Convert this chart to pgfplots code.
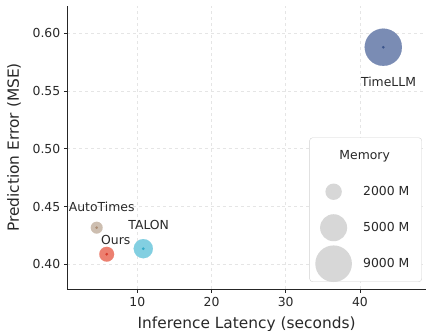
\documentclass[border=0pt]{standalone}
\usepackage{pgfplots}
\pgfplotsset{compat=1.18}
\usepackage{fontspec}
\setmainfont{DejaVu Sans}
\definecolor{cTime}{RGB}{122,140,180}
\definecolor{dTime}{RGB}{60,85,140}
\definecolor{cAuto}{RGB}{205,190,176}
\definecolor{dAuto}{RGB}{170,140,115}
\definecolor{cOurs}{RGB}{236,128,112}
\definecolor{dOurs}{RGB}{215,60,45}
\definecolor{cTalon}{RGB}{130,207,225}
\definecolor{dTalon}{RGB}{50,170,200}
\definecolor{lgrey}{RGB}{215,215,215}
\definecolor{txt}{RGB}{40,40,40}
\newcommand{\fs}{\fontsize{12.4bp}{14bp}\selectfont}
\newcommand{\fl}{\fontsize{15.4bp}{18bp}\selectfont}
\begin{document}
\begin{tikzpicture}
\useasboundingbox (-67.3bp,-42bp) rectangle (358.7bp,289bp);
\begin{axis}[
  at={(0,0)}, anchor=south west,
  scale only axis, width=358.7bp, height=283bp,
  xmin=0.57, xmax=48.9, ymin=0.3786, ymax=0.6236,
  axis lines=left, axis line style={-, black!85, line width=0.8bp},
  tick align=outside, major tick length=3.5bp,
  tick style={black!85, line width=0.8bp},
  xtick={10,20,30,40}, ytick={0.40,0.45,0.50,0.55,0.60},
  yticklabel style={/pgf/number format/.cd, fixed, fixed zerofill, precision=2},
  /pgf/number format/assume math mode=true,
  ticklabel style={font=\fs, text=txt},
  xticklabel style={yshift=-1bp},
  grid=major, grid style={dashed, black!10, line width=0.6bp},
  xlabel={Inference Latency (seconds)}, ylabel={Prediction Error (MSE)},
  xlabel style={font=\fl, text=txt, at={(axis description cs:0.5,0)}, anchor=base, yshift=-39bp},
  ylabel style={font=\fl, text=txt, at={(axis description cs:-0.1486,0.5)}, anchor=center},
  legend style={at={(rel axis cs:0.9886,0.025)}, anchor=south east, draw=black!18,
    rounded corners=3bp, fill=white, inner sep=0pt, row sep=0pt, column sep=0pt,
    font=\fs, text=txt, nodes={inner sep=0pt}, cells={anchor=west, draw=none}},
]
\addplot[only marks, mark=*, mark size=18.6bp, color=cTime, line width=0.1bp, forget plot] coordinates {(43.15,0.5879)};
\addplot[only marks, mark=*, mark size=1.3bp, color=dTime, line width=0.1bp, forget plot] coordinates {(43.15,0.5879)};
\addplot[only marks, mark=*, mark size=5.9bp, color=cAuto, line width=0.1bp, forget plot] coordinates {(4.53,0.4317)};
\addplot[only marks, mark=*, mark size=1.3bp, color=dAuto, line width=0.1bp, forget plot] coordinates {(4.53,0.4317)};
\addplot[only marks, mark=*, mark size=7.4bp, color=cOurs, line width=0.1bp, forget plot] coordinates {(5.88,0.4087)};
\addplot[only marks, mark=*, mark size=1.3bp, color=dOurs, line width=0.1bp, forget plot] coordinates {(5.88,0.4087)};
\addplot[only marks, mark=*, mark size=9.6bp, color=cTalon, line width=0.1bp, forget plot] coordinates {(10.81,0.4135)};
\addplot[only marks, mark=*, mark size=1.3bp, color=dTalon, line width=0.1bp, forget plot] coordinates {(10.81,0.4135)};
\node[font=\fs, text=txt] at (axis cs:43.85,0.5583) {TimeLLM};
\node[font=\fs, text=txt] at (axis cs:5.2,0.4493) {AutoTimes};
\node[font=\fs, text=txt] at (axis cs:7.1,0.421) {Ours};
\node[font=\fs, text=txt] at (axis cs:11.54,0.4343) {TALON};
\addlegendimage{legend image code/.code={\path[draw=none,fill=none] (-24bp,-18bp) rectangle (29.6bp,18bp);
  \begin{pgfinterruptboundingbox}\node[font=\fs, text=txt, draw=none, fill=none, anchor=center] at (31.1bp,0) {Memory};\end{pgfinterruptboundingbox}}}
\addlegendentry{}
\addlegendimage{legend image code/.code={\path[draw=none,fill=none] (-24bp,-18bp) rectangle (29.6bp,18bp);
  \begin{pgfinterruptboundingbox}\fill[lgrey, draw=none] (0,0) circle (8.2bp);\end{pgfinterruptboundingbox}}}
\addlegendentry{2000 M\hspace*{12.3bp}}
\addlegendimage{legend image code/.code={\path[draw=none,fill=none] (-24bp,-18bp) rectangle (29.6bp,18bp);
  \begin{pgfinterruptboundingbox}\fill[lgrey, draw=none] (0,0) circle (13.5bp);\end{pgfinterruptboundingbox}}}
\addlegendentry{5000 M\hspace*{12.3bp}}
\addlegendimage{legend image code/.code={\path[draw=none,fill=none] (-24bp,-18bp) rectangle (29.6bp,18bp);
  \begin{pgfinterruptboundingbox}\fill[lgrey, draw=none] (0,0) circle (18.3bp);\end{pgfinterruptboundingbox}}}
\addlegendentry{9000 M\hspace*{12.3bp}}
\end{axis}
\end{tikzpicture}
\end{document}
